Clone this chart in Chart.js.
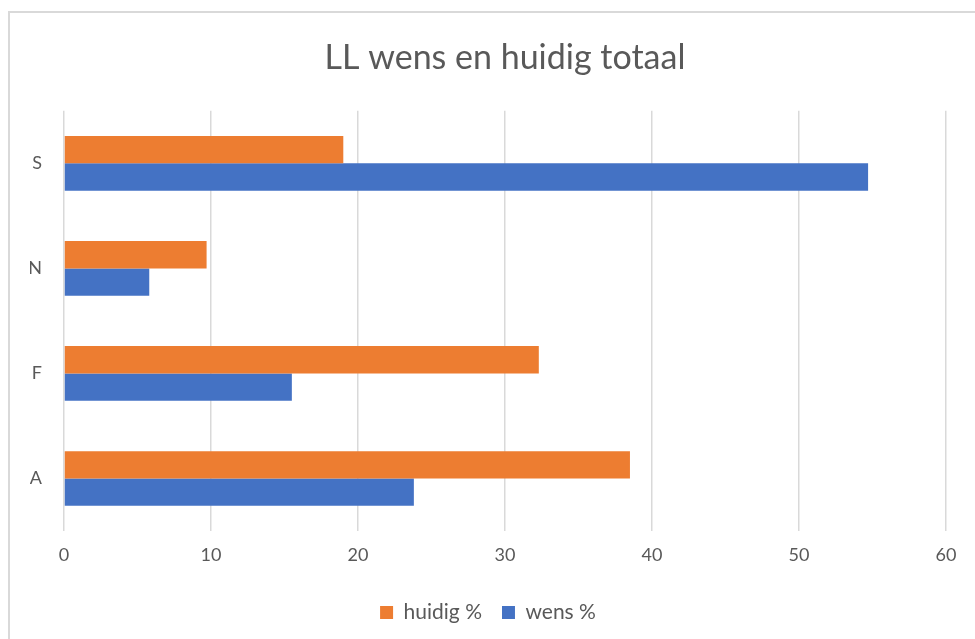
<!DOCTYPE html>
<html>
<head>
<meta charset="utf-8">
<script src="https://cdn.jsdelivr.net/npm/chart.js@4/dist/chart.umd.min.js"></script>
<style>
  html, body { margin: 0; padding: 0; background: #fff; }
  #wrap { position: relative; width: 975px; height: 639px; overflow: hidden; }
  #frame { position: absolute; left: 8px; top: 11px; width: 1000px; height: 700px; border: 2px solid #d9d9d9; box-sizing: border-box; }
  #chart { position: absolute; left: 0; top: 0; }
</style>
</head>
<body>
<div id="wrap">
  <div id="frame"></div>
  <canvas id="chart" width="975" height="639"></canvas>
</div>
<script>
"use strict";
// categories, top to bottom as drawn
const categories = ["S", "N", "F", "A"];
const huidig = [19.0, 9.7, 32.3, 38.5];
const wens = [54.7, 5.8, 15.5, 23.8];
const xTicks = [0, 10, 20, 30, 40, 50, 60];

const textColor = "#595959";
const fontFamily = "Lato, 'Open Sans', sans-serif";

const ctx = document.getElementById("chart");
const chart = new Chart(ctx, {
    type: "bar",
    data: {
        labels: categories,
        datasets: [
            { label: "huidig %", data: huidig, backgroundColor: "#ED7D31" },
            { label: "wens %", data: wens, backgroundColor: "#4472C4" }
        ]
    },
    options: {
        indexAxis: "y",
        responsive: false,
        animation: false,
        datasets: {
            bar: { categoryPercentage: 0.52, barPercentage: 1.0 }
        },
        layout: { padding: { left: 30, right: 29, top: 0, bottom: 6 } },
        plugins: {
            title: {
                display: true,
                fullSize: false, // centre over the plot area
                text: "LL wens en huidig totaal",
                color: textColor,
                font: { family: fontFamily, size: 34, weight: "normal" },
                padding: { top: 38, bottom: 32 }
            },
            legend: {
                position: "bottom",
                labels: {
                    color: textColor,
                    font: { family: fontFamily, size: 21 },
                    boxWidth: 13,
                    boxHeight: 13,
                    padding: 20
                }
            },
            tooltip: { enabled: false }
        },
        scales: {
            x: {
                min: 0,
                max: 60,
                afterBuildTicks: (scale) => { scale.ticks = xTicks.map(v => ({ value: v })); },
                afterFit: (scale) => { scale.height = 51; },
                grid: { color: "#d9d9d9", lineWidth: 1.5, drawTicks: false },
                border: { display: false },
                ticks: { color: textColor, font: { family: fontFamily, size: 18 }, padding: 13 }
            },
            y: {
                grid: { display: false, drawTicks: false },
                border: { display: false },
                afterFit: (scale) => { scale.width = 34; },
                ticks: { color: textColor, font: { family: fontFamily, size: 18 }, padding: 22 }
            }
        }
    }
});
</script>
</body>
</html>
